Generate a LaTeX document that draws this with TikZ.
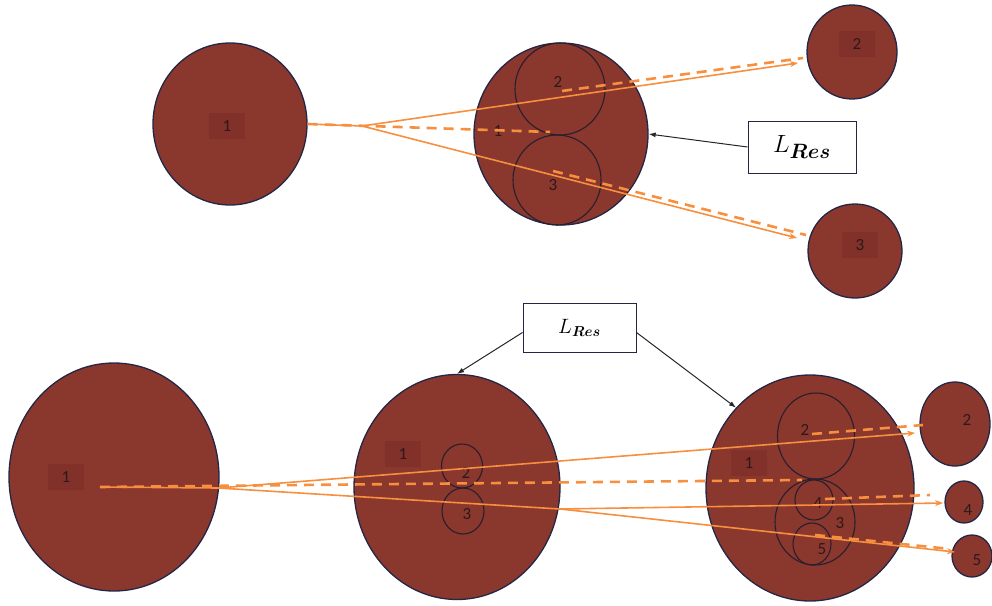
\documentclass[tikz,border=0pt]{standalone}
\usepackage{fontspec}
\usepackage{bm}
\usetikzlibrary{shapes.geometric,arrows.meta}
\newfontfamily\lblfont{Carlito}
\definecolor{ballfill}{RGB}{138,55,45}
\definecolor{ballline}{RGB}{35,38,70}
\definecolor{subline}{RGB}{40,30,45}
\definecolor{lblbg}{RGB}{129,49,41}
\definecolor{numcol}{RGB}{45,25,25}
\definecolor{raycol}{RGB}{247,143,62}
\begin{document}
\begin{tikzpicture}[x=1pt,y=-1pt,
  ball/.style={ellipse,draw=ballline,line width=1.3pt,fill=ballfill,inner sep=0pt},
  sub/.style={ellipse,draw=subline,line width=1.1pt,inner sep=0pt},
  num/.style={font=\lblfont\fontsize{17}{17}\selectfont,text=numcol,inner sep=0pt},
  numbg/.style={num,fill=lblbg,minimum width=36pt,minimum height=26pt},
  ray/.style={draw=raycol,line width=1.6pt},
  rayarrow/.style={ray,-{Stealth[length=8pt,width=6pt]}},
  raydash/.style={draw=raycol,line width=2.6pt,dash pattern=on 10pt off 7pt},
  ptr/.style={draw=black!85,line width=1pt,-{Latex[length=7pt,width=5pt]}},
  resbox/.style={draw=ballline,line width=1pt,fill=white,inner sep=0pt}
]
\useasboundingbox (0,0) rectangle (992,605);

% ---------- top row ----------
\node[ball,minimum width=154pt,minimum height=162pt] (t1) at (230,124) {};
\node[ball,minimum width=174pt,minimum height=182pt] (tm) at (561,134) {};
\node[sub,minimum width=90pt,minimum height=92pt] (tm2) at (560,89) {};
\node[sub,minimum width=88pt,minimum height=90pt] (tm3) at (557,180) {};
\node[ball,minimum width=90pt,minimum height=94pt] (t2) at (852,52) {};
\node[ball,minimum width=94pt,minimum height=94pt] (t3) at (855,251) {};

\node[numbg] (t1l) at (227,126) {1};
\node[num] (tm1l) at (498,131) {1};
\node[num] (tm2l) at (558,82) {2};
\node[num] (tm3l) at (553,185) {3};
\node[numbg] (t2l) at (857,44) {2};
\node[numbg] (t3l) at (860,245) {3};

\node[resbox,minimum width=108pt,minimum height=52pt] (tres) at (802,147)
  {\fontsize{28}{28}\selectfont $L_{\bm{Res}}$};
\draw[ptr] (tres.west) -- (tm.east);

\coordinate (tsplit) at (362,126);
\coordinate (t2tip) at (798,63);
\coordinate (t3tip) at (797,238);
\coordinate (tdend) at (550,132);
\coordinate (td2a) at (562,91);
\coordinate (td2b) at (803,58);
\coordinate (td3a) at (553,171);
\coordinate (td3b) at (806,235);
\draw[ray] (t1.east) -- (tsplit);
\draw[rayarrow] (tsplit) -- (t2tip);
\draw[rayarrow] (tsplit) -- (t3tip);
\draw[raydash] (t1.east) -- (tdend);
\draw[raydash] (td2a) -- (td2b);
\draw[raydash] (td3a) -- (td3b);

% ---------- bottom row ----------
\node[ball,minimum width=210pt,minimum height=228pt] (b1) at (114,477) {};
\node[ball,minimum width=206pt,minimum height=225pt] (bm) at (457,487) {};
\node[sub,minimum width=41pt,minimum height=44pt] (bm2) at (462,466) {};
\node[sub,minimum width=42pt,minimum height=46pt] (bm3) at (463,511) {};
\node[ball,minimum width=208pt,minimum height=226pt] (br) at (810,488) {};
\node[sub,minimum width=77pt,minimum height=86pt] (br2) at (816,436) {};
\node[sub,minimum width=80pt,minimum height=86pt] (br3) at (815,522) {};
\node[sub,minimum width=38pt,minimum height=40pt] (br4) at (814,500) {};
\node[sub,minimum width=38pt,minimum height=42pt] (br5) at (812,544) {};
\node[ball,minimum width=70pt,minimum height=84pt] (r2) at (955,424) {};
\node[ball,minimum width=38pt,minimum height=42pt] (r4) at (964,502) {};
\node[ball,minimum width=40pt,minimum height=42pt] (r5) at (972,556) {};

\node[numbg] (b1l) at (66,477) {1};
\node[numbg] (bm1l) at (403,454) {1};
\node[num] (bm2l) at (466,473) {2};
\node[num] (bm3l) at (467,514) {3};
\node[numbg] (br1l) at (749,463) {1};
\node[num] (br2l) at (805,430) {2};
\node[num] (br3l) at (840,523) {3};
\node[num] (br4l) at (818,503) {4};
\node[num] (br5l) at (822,549) {5};
\node[num] (r2l) at (967,420) {2};
\node[num] (r4l) at (968,510) {4};
\node[num] (r5l) at (977,560) {5};

\node[resbox,minimum width=113pt,minimum height=49pt] (bres) at (579.5,327.5)
  {\fontsize{21}{21}\selectfont $L_{\bm{Res}}$};
\draw[ptr] ([yshift=-5pt]bres.west) -- (bm.north);
\draw[ptr] ([yshift=-5pt]bres.east) -- (br.north west);

\coordinate (bstart) at (100,487);
\coordinate (bsplit) at (218,488);
\coordinate (bsplit2) at (560,509);
\coordinate (b2tip) at (915,433);
\coordinate (b4tip) at (943,503);
\coordinate (b5tip) at (955,552);
\coordinate (bdend) at (802,480);
\coordinate (bd2a) at (812,434);
\coordinate (bd2b) at (923,425);
\coordinate (bd4a) at (825,499);
\coordinate (bd4b) at (930,495);
\coordinate (bd5a) at (815,535);
\coordinate (bd5b) at (950,549);
\draw[ray] (bstart) -- (bsplit);
\draw[rayarrow] (bsplit) -- (b2tip);
\draw[ray] (bsplit) -- (bsplit2);
\draw[rayarrow] (bsplit2) -- (b4tip);
\draw[rayarrow] (bsplit2) -- (b5tip);
\draw[raydash] (bstart) -- (bdend);
\draw[raydash] (bd2a) -- (bd2b);
\draw[raydash] (bd4a) -- (bd4b);
\draw[raydash] (bd5a) -- (bd5b);
\end{tikzpicture}
\end{document}
